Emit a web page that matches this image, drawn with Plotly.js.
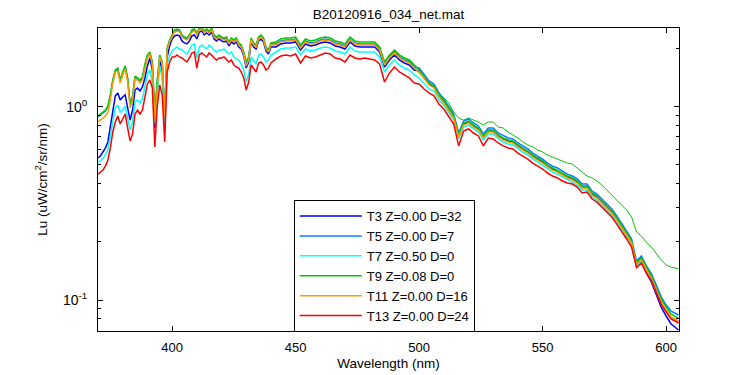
<!DOCTYPE html>
<html>
<head>
<meta charset="utf-8">
<script src="https://cdn.plot.ly/plotly-3.0.1.min.js"></script>
<style>html,body{margin:0;padding:0;background:#fff;}#chart{width:750px;height:375px;}</style>
</head>
<body>
<div id="chart"></div>
<script>
// Wavelength grid (nm)
var wavelength = [370,371,372,373,374,375,376,377,378,379,380,381,382,383,384,385,386,387,388,389,390,391,392,393,394,395,396,397,398,399,400,
401,402,403,404,405,406,407,408,409,410,411,412,413,414,415,416,417,418,419,420,421,422,423,424,425,426,427,428,429,430,431,432,433,434,435,436,437,438,439,440,
442,444,446,448,450,452,454,456,458,460,462,464,466,468,470,472,474,476,478,480,482,484,486,488,490,492,494,496,498,500,
502,504,506,508,510,512,514,516,518,520,522,524,526,528,530,532,534,536,538,540,542,544,546,548,550,552,554,556,558,560,
562,564,566,568,570,572,574,576,578,580,582,584,586,588,590,592,594,596,598,600,602,605];

var seriesNames = ['T3 Z=0.00 D=32','T5 Z=0.00 D=7','T7 Z=0.50 D=0','T9 Z=0.08 D=0','T11 Z=0.00 D=16','T13 Z=0.00 D=24'];

var T3 = [.543,.556,.583,.612,.657,.776,.961,1.137,1.178,1.083,1.123,1.150,.985,.853,.961,1.220,1.250,1.206,1.265,1.408,1.624,1.786,1.548,.776,1.250,1.744,1.512,.795,1.808,2.061,2.240,
2.322,2.349,2.322,2.188,2.136,2.111,2.188,2.322,2.349,2.240,2.435,2.464,2.349,2.406,2.349,2.435,2.240,2.188,2.240,2.188,2.162,2.188,2.061,2.162,2.111,2.162,2.036,1.988,1.829,1.585,1.703,2.162,2.036,1.988,2.188,2.240,2.162,1.941,1.873,2.036,
2.036,2.111,2.136,2.136,2.162,1.965,2.111,2.061,2.085,2.136,2.162,2.136,2.061,2.036,1.988,2.162,2.061,2.036,2.036,2.036,2.036,1.918,1.604,1.744,1.851,1.744,1.683,1.643,1.548,1.530,
1.408,1.311,1.265,1.137,1.058,.973,.885,.706,.814,.833,.795,.767,.697,.749,.749,.706,.681,.665,.657,.627,.605,.583,.556,.536,.518,.493,.476,.465,.448,.433,
.423,.408,.384,.384,.353,.341,.321,.303,.285,.262,.241,.220,.199,.150,.157,.138,.124,.106,.0920,.0827,.0752,.0700];

var T5 = [.885,.906,.928,.950,.997,1.137,1.358,1.530,1.567,1.358,1.494,1.604,1.391,1.020,1.123,1.424,1.391,1.358,1.408,1.643,1.829,1.896,1.683,.885,1.358,1.829,1.683,.895,1.988,2.188,2.322,
2.464,2.494,2.464,2.322,2.267,2.240,2.322,2.464,2.494,2.378,2.523,2.553,2.435,2.494,2.435,2.523,2.322,2.267,2.322,2.267,2.240,2.267,2.136,2.240,2.188,2.240,2.111,2.061,1.896,1.663,1.786,2.240,2.111,2.061,2.267,2.322,2.240,2.012,1.941,2.111,
2.111,2.188,2.214,2.214,2.240,2.036,2.188,2.136,2.162,2.214,2.240,2.214,2.136,2.111,2.061,2.240,2.136,2.111,2.111,2.111,2.111,1.988,1.663,1.808,1.918,1.808,1.744,1.703,1.604,1.585,
1.459,1.358,1.311,1.178,1.097,1.008,.917,.731,.843,.864,.824,.795,.723,.776,.776,.731,.706,.689,.681,.649,.627,.605,.576,.556,.536,.511,.493,.482,.465,.448,
.438,.423,.398,.398,.366,.353,.333,.314,.296,.272,.250,.227,.207,.159,.169,.150,.137,.118,.104,.0942,.0877,.0837];

var T7 = [.518,.524,.543,.562,.597,.706,.874,.985,1.020,.939,.961,1.008,.874,.758,.833,1.058,1.083,1.045,1.097,1.280,1.476,1.548,1.342,.814,1.110,1.624,1.408,.731,1.663,1.829,1.941,
1.988,2.036,1.988,1.965,1.918,1.873,1.965,2.085,2.111,1.786,2.036,2.085,2.036,1.988,2.085,2.036,1.965,1.918,1.965,1.965,1.988,1.918,1.873,1.918,1.808,1.765,1.744,1.663,1.548,1.342,1.476,1.808,1.744,1.663,1.851,1.873,1.808,1.703,1.744,1.851,
1.918,1.988,2.012,2.012,2.036,1.851,1.988,1.941,1.965,2.012,2.036,2.012,1.941,1.918,1.873,2.036,1.941,1.918,1.918,1.918,1.918,1.808,1.512,1.643,1.744,1.643,1.585,1.548,1.459,1.408,
1.311,1.235,1.206,1.083,1.020,.939,.853,.681,.785,.804,.767,.740,.673,.723,.723,.681,.657,.642,.634,.605,.583,.562,.536,.518,.499,.476,.459,.448,.433,.418,
.408,.393,.371,.371,.341,.329,.310,.292,.275,.253,.233,.212,.193,.148,.157,.140,.127,.110,.0965,.0877,.0807,.0770];

var T9 = [.895,.917,.939,.961,1.008,1.150,1.375,1.548,1.585,1.375,1.512,1.624,1.408,1.033,1.137,1.441,1.408,1.375,1.424,1.663,1.851,1.918,1.703,.906,1.375,1.851,1.703,.906,2.012,2.214,2.349,
2.494,2.523,2.494,2.349,2.294,2.267,2.349,2.494,2.523,2.406,2.553,2.583,2.464,2.523,2.464,2.553,2.349,2.294,2.349,2.294,2.267,2.294,2.162,2.267,2.214,2.267,2.136,2.085,1.918,1.703,1.808,2.267,2.136,2.085,2.294,2.349,2.267,2.036,1.965,2.136,
2.162,2.240,2.267,2.267,2.294,2.085,2.240,2.188,2.214,2.267,2.294,2.267,2.188,2.162,2.111,2.294,2.188,2.162,2.162,2.162,2.162,2.036,1.703,1.851,1.965,1.851,1.786,1.744,1.643,1.548,
1.424,1.326,1.280,1.150,1.071,.985,.895,.714,.824,.843,.804,.776,.706,.758,.758,.714,.689,.673,.665,.634,.612,.590,.562,.543,.524,.499,.482,.470,.454,.438,
.428,.413,.389,.389,.358,.345,.325,.307,.289,.265,.244,.222,.202,.155,.165,.147,.133,.115,.101,.0920,.0846,.0807];

var T11 = [.833,.853,.874,.895,.939,1.083,1.326,1.512,1.530,1.326,1.459,1.567,1.342,.985,1.083,1.391,1.375,1.326,1.375,1.604,1.786,1.873,1.643,.853,1.326,1.808,1.663,.874,1.965,2.162,2.294,
2.435,2.464,2.435,2.294,2.240,2.214,2.294,2.435,2.464,2.349,2.494,2.523,2.406,2.464,2.406,2.494,2.294,2.240,2.294,2.240,2.214,2.240,2.111,2.214,2.162,2.214,2.085,2.036,1.873,1.624,1.744,2.214,2.085,2.036,2.240,2.294,2.214,1.988,1.918,2.085,
2.085,2.162,2.188,2.188,2.214,2.012,2.162,2.111,2.136,2.188,2.214,2.188,2.111,2.085,2.036,2.214,2.111,2.085,2.085,2.085,2.085,1.965,1.643,1.786,1.896,1.786,1.723,1.683,1.585,1.512,
1.391,1.295,1.250,1.123,1.045,.961,.874,.697,.804,.824,.785,.758,.689,.740,.740,.697,.673,.657,.649,.619,.597,.576,.549,.530,.511,.488,.470,.459,.443,.428,
.418,.403,.380,.380,.349,.337,.318,.299,.282,.259,.238,.217,.197,.152,.161,.143,.130,.113,.0976,.0888,.0817,.0779];

var T13 = [.448,.459,.470,.493,.530,.612,.740,.833,.895,.814,.874,.917,.776,.665,.723,.917,.961,.917,.961,1.150,1.311,1.375,1.250,.619,1.008,1.295,1.150,.657,1.512,1.703,1.808,
1.808,1.851,1.808,1.786,1.744,1.703,1.786,1.896,1.918,1.585,1.851,1.896,1.851,1.808,1.896,1.851,1.786,1.744,1.786,1.786,1.808,1.744,1.703,1.744,1.643,1.604,1.585,1.512,1.408,1.220,1.342,1.643,1.585,1.512,1.683,1.703,1.643,1.548,1.585,1.683,
1.765,1.829,1.851,1.829,1.873,1.683,1.829,1.786,1.808,1.851,1.896,1.873,1.786,1.765,1.703,1.851,1.786,1.765,1.786,1.765,1.744,1.663,1.342,1.494,1.604,1.512,1.459,1.408,1.326,1.311,
1.235,1.178,1.137,1.033,.973,.895,.814,.627,.749,.767,.731,.706,.627,.689,.681,.649,.627,.612,.605,.576,.556,.536,.511,.493,.476,.454,.438,.428,.413,.403,
.398,.384,.358,.362,.333,.321,.303,.285,.269,.247,.227,.207,.188,.147,.155,.138,.126,.110,.0953,.0867,.0798,.0761];

// extra unlabelled cast (thin green) that separates from the bundle above 500 nm
var extraWavelength = [490,492,494,496,498,500,502,504,506,508,510,512,514,516,518,520,522,524,526,528,530,532,534,536,538,540,
542,544,546,548,550,552,554,556,558,560,562,564,566,568,570,572,574,576,578,580,582,584,586,588,590,592,594,596,598,600,602,605];
var extraSeries = [1.965,1.851,1.786,1.723,1.604,1.494,1.424,1.342,1.265,1.192,1.110,1.045,.939,.874,.853,.874,.853,.833,.804,.833,.833,.785,.776,.740,.714,.689,
.657,.634,.619,.597,.583,.562,.549,.536,.524,.511,.505,.482,.459,.438,.428,.413,.393,.371,.349,.329,.310,.292,.269,.225,.214,.199,.188,.173,.161,.152,.148,.145];

var seriesColors = ['#0000ff','#0080ff','#00ffff','#00c800','#ff9900','#ff0000'];
var seriesData = [T3,T5,T7,T9,T11,T13];

var traces = [{
  x: extraWavelength, y: extraSeries, type:'scatter', mode:'lines',
  line:{color:'#00c800', width:1}, showlegend:false, hoverinfo:'skip'
}];
for (var i=0;i<seriesData.length;i++){
  traces.push({x: wavelength, y: seriesData[i], type:'scatter', mode:'lines', name: seriesNames[i],
    line:{color: seriesColors[i], width:1.5}});
}

var fontFam = 'Liberation Sans, Arial, Helvetica, sans-serif';
var layout = {
  width:750, height:375,
  margin:{l:98, r:71, t:28, b:44, pad:0},
  paper_bgcolor:'#ffffff', plot_bgcolor:'#ffffff',
  font:{family:fontFam, size:13, color:'#000000'},
  showlegend:true,
  title:{text:'B20120916_034_net.mat', x:0.5, xref:'paper', xanchor:'center', y:0.962, yref:'container', yanchor:'middle', font:{family:fontFam, size:13.5, color:'#000'}},
  xaxis:{range:[370,605.2], tickmode:'array', tickvals:[400,450,500,550,600], ticks:'inside', ticklen:5, tickcolor:'#000',
    showline:true, linecolor:'#000', linewidth:1, mirror:'ticks', showgrid:false, zeroline:false, ticklabelstandoff:4,
    tickfont:{size:13}, title:{text:'Wavelength (nm)', font:{size:13.5}, standoff:4}},
  yaxis:{type:'log', range:[-1.16, 0.407], tickmode:'array', tickvals:[0.1,1], ticktext:['10<sup>-1</sup>','10<sup>0</sup>'],
    ticks:'inside', ticklen:5, tickcolor:'#000', showline:true, linecolor:'#000', linewidth:1, mirror:'ticks', showgrid:false, zeroline:false,
    ticklabelstandoff:7,
    minor:{tickmode:'array', tickvals:[0.07,0.08,0.09,0.2,0.3,0.4,0.5,0.6,0.7,0.8,0.9,2], ticks:'inside', ticklen:3, tickcolor:'#000', showgrid:false},
    tickfont:{size:14}, title:{text:'Lu (uW/cm<sup>2</sup>/sr/nm)', font:{size:13.5}, standoff:12}},
  legend:{x:0.337, y:0.432, xanchor:'left', yanchor:'top', bgcolor:'#ffffff', bordercolor:'#000', borderwidth:1,
    font:{size:13}, itemwidth:62, tracegroupgap:0}
};

Plotly.newPlot('chart', traces, layout, {displayModeBar:false, staticPlot:true});
</script>
</body>
</html>
